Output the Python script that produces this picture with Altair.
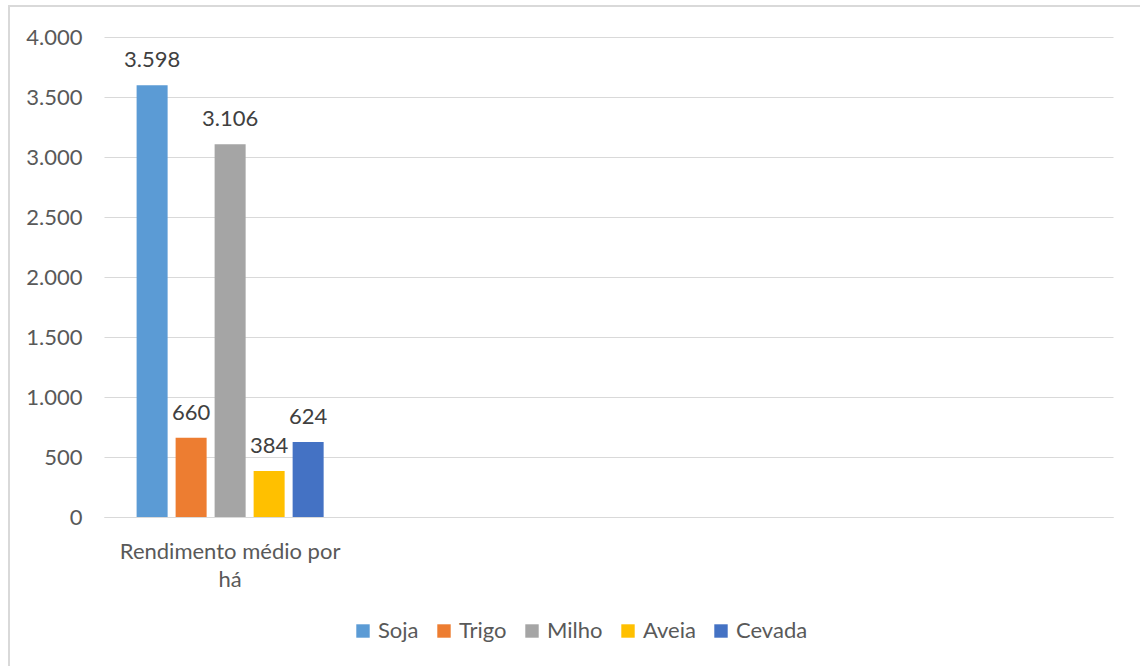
import altair as alt
import pandas as pd

# Rendimento médio por hectare de cada cultura
category = "Rendimento médio por há"
crops = ["Soja", "Trigo", "Milho", "Aveia", "Cevada"]
values = [3598, 660, 3106, 384, 624]
colors = ["#5B9BD5", "#ED7D31", "#A5A5A5", "#FFC000", "#4472C4"]
# extra empty slots on the category axis
x_domain = [category, " ", "  ", "   "]
y_ticks = [0, 500, 1000, 1500, 2000, 2500, 3000, 3500, 4000]

df = pd.DataFrame({"categoria": [category] * len(crops), "cultura": crops, "valor": values})

FONT = "Lato"
FS = 22
TEXT = "#595959"
GRID = "#D9D9D9"

x_enc = alt.X(
    "categoria:N",
    scale=alt.Scale(domain=x_domain, paddingInner=0, paddingOuter=0),
    axis=alt.Axis(
        title=None,
        ticks=False,
        domainColor=GRID,
        domainWidth=1,
        labelAngle=0,
        labelPadding=24,
        labelFontSize=FS,
        labelColor=TEXT,
        labelFont=FONT,
        labelLineHeight=28,
        labelLimit=400,
        labelExpr="datum.value == '" + category + "' ? ['Rendimento médio por', 'há'] : ''",
    ),
)
xoff_enc = alt.XOffset(
    "cultura:N",
    scale=alt.Scale(domain=crops, paddingInner=0.205, paddingOuter=0.836),
)

base = alt.Chart(df)

bars = base.mark_bar().encode(
    x=x_enc,
    xOffset=xoff_enc,
    y=alt.Y(
        "valor:Q",
        scale=alt.Scale(domain=[0, 4000], nice=False),
        axis=alt.Axis(
            title=None,
            values=y_ticks,
            ticks=False,
            domain=False,
            gridColor=GRID,
            gridWidth=1,
            labelFontSize=FS,
            labelColor=TEXT,
            labelFont=FONT,
            labelPadding=22,
            labelExpr="replace(format(datum.value, ','), ',', '.')",
        ),
    ),
    color=alt.Color(
        "cultura:N",
        scale=alt.Scale(domain=crops, range=colors),
        legend=alt.Legend(
            title=None,
            orient="none",
            direction="horizontal",
            legendX=248,
            legendY=583,
            symbolType="square",
            symbolSize=180,
            symbolStrokeWidth=0,
            labelFontSize=FS,
            labelColor=TEXT,
            labelFont=FONT,
            columnPadding=14,
            labelOffset=4,
        ),
    ),
)

labels = base.transform_calculate(
    rotulo="replace(format(datum.valor, ','), ',', '.')"
).mark_text(
    baseline="bottom", dy=-13, fontSize=FS, font=FONT, color="#404040"
).encode(
    x=x_enc,
    xOffset=xoff_enc,
    y="valor:Q",
    text="rotulo:N",
)

# light frame around the chart area
frame = alt.Chart(pd.DataFrame({"f": [0]})).mark_rect(
    fill=None, stroke=GRID, strokeWidth=2
).encode(
    x=alt.value(-95), x2=alt.value(1050), y=alt.value(-31), y2=alt.value(640)
)

chart = alt.layer(frame, bars, labels).properties(
    width=1009,
    height=480,
    autosize=alt.AutoSizeParams(type="none"),
    padding={"left": 104, "top": 37, "right": 27, "bottom": 149},
    background="white",
).configure_view(stroke=None)

chart.save("out.html", embed_options={"renderer": "svg", "actions": False})
